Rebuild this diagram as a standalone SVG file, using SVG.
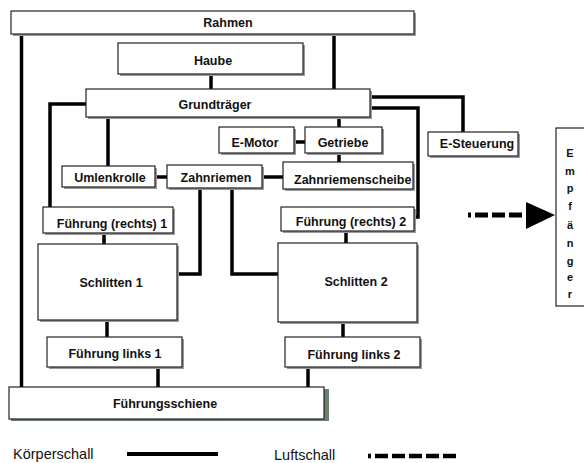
<svg xmlns="http://www.w3.org/2000/svg" width="584" height="463" viewBox="0 0 584 463">
<style>
.b{fill:#fff;stroke:#222;stroke-width:1.2}
.s{fill:#9a9a9a}
.t{font-family:"Liberation Sans",Arial,sans-serif;font-weight:bold;font-size:12.5px;fill:#111;text-anchor:middle}
.l{font-family:"Liberation Sans",Arial,sans-serif;font-size:14.5px;fill:#111}
.k{fill:none;stroke:#000;stroke-width:3.5}
.d{fill:none;stroke:#000;stroke-width:5}
.e{font-family:"Liberation Sans",Arial,sans-serif;font-weight:bold;font-size:11px;fill:#111;text-anchor:middle}
</style>
<rect width="584" height="463" fill="#fff"/>
<g id="connectors">
<line class="k" x1="21.5" y1="34" x2="21.5" y2="387"/>
<line class="k" x1="334" y1="34" x2="334" y2="89"/>
<line class="k" x1="211" y1="74" x2="211" y2="89"/>
<polyline class="k" points="86,104 50,104 50,207"/>
<line class="k" x1="108" y1="117" x2="108" y2="166"/>
<line class="k" x1="339" y1="117" x2="339" y2="127"/>
<line class="k" x1="294" y1="142" x2="305" y2="142"/>
<line class="k" x1="339" y1="153" x2="339" y2="162"/>
<polyline class="k" points="370,97 463,97 463,132"/>
<polyline class="k" points="370,108 418,108 418,217 414,217"/>
<line class="k" x1="155" y1="177" x2="167" y2="177"/>
<line class="k" x1="262" y1="177" x2="283" y2="177"/>
<polyline class="k" points="200,188 200,274 177,274"/>
<polyline class="k" points="232,188 232,274 278,274"/>
<line class="k" x1="104" y1="233" x2="104" y2="244"/>
<line class="k" x1="346" y1="231" x2="346" y2="243"/>
<line class="k" x1="107" y1="320" x2="107" y2="337"/>
<line class="k" x1="343" y1="322" x2="343" y2="337"/>
<line class="k" x1="158" y1="367" x2="158" y2="387"/>
<line class="k" x1="308" y1="367" x2="308" y2="387"/>
<line class="d" x1="468" y1="215" x2="529" y2="215" stroke-dasharray="3,4,13,4,13,4,13,4"/>
<polygon points="526,202 555,215 526,229" fill="#000"/>
</g>
<g id="rahmen"><rect class="s" x="13" y="13" width="403" height="23"/><rect class="b" x="11" y="11" width="403" height="23"/><text class="t" x="228" y="27">Rahmen</text></g>
<g id="haube"><rect class="s" x="120" y="45" width="185" height="31"/><rect class="b" x="118" y="43" width="185" height="31"/><text class="t" x="213" y="65">Haube</text></g>
<g id="grundtraeger"><rect class="s" x="88" y="91" width="284" height="28"/><rect class="b" x="86" y="89" width="284" height="28"/><text class="t" x="215" y="109">Grundträger</text></g>
<g id="emotor"><rect class="s" x="221" y="129" width="75" height="26"/><rect class="b" x="219" y="127" width="75" height="26"/><text class="t" x="255" y="147">E-Motor</text></g>
<g id="getriebe"><rect class="s" x="307" y="129" width="77" height="26"/><rect class="b" x="305" y="127" width="77" height="26"/><text class="t" x="343" y="147">Getriebe</text></g>
<g id="esteuerung"><rect class="s" x="430" y="134" width="90" height="24"/><rect class="b" x="428" y="132" width="90" height="24"/><text class="t" x="477" y="148">E-Steuerung</text></g>
<g id="empfaenger"><rect class="b" x="556" y="128" width="40" height="178"/>
<text class="e" x="570" y="157">E</text><text class="e" x="570" y="175">m</text><text class="e" x="570" y="192">p</text><text class="e" x="570" y="210">f</text><text class="e" x="570" y="229">ä</text><text class="e" x="570" y="247">n</text><text class="e" x="570" y="265">g</text><text class="e" x="570" y="281">e</text><text class="e" x="570" y="298">r</text></g>
<g id="umlenkrolle"><rect class="s" x="64" y="168" width="93" height="21"/><rect class="b" x="62" y="166" width="93" height="21"/><text class="t" x="110" y="182">Umlenkrolle</text></g>
<g id="zahnriemen"><rect class="s" x="169" y="167" width="95" height="23"/><rect class="b" x="167" y="165" width="95" height="23"/><text class="t" x="216" y="182">Zahnriemen</text></g>
<g id="zahnriemenscheibe"><rect class="s" x="285" y="164" width="130" height="27"/><rect class="b" x="283" y="162" width="130" height="27"/><text class="t" x="294" y="184" style="text-anchor:start">Zahnriemenscheibe</text></g>
<g id="fuehrung-r1"><rect class="s" x="45" y="209" width="130" height="26"/><rect class="b" x="43" y="207" width="130" height="26"/><text class="t" x="112" y="228">Führung (rechts) 1</text></g>
<g id="fuehrung-r2"><rect class="s" x="283" y="209" width="133" height="24"/><rect class="b" x="281" y="207" width="133" height="24"/><text class="t" x="351" y="226">Führung (rechts) 2</text></g>
<g id="schlitten1"><rect class="s" x="40" y="246" width="139" height="76"/><rect class="b" x="38" y="244" width="139" height="76"/><text class="t" x="111" y="287">Schlitten 1</text></g>
<g id="schlitten2"><rect class="s" x="280" y="245" width="139" height="79"/><rect class="b" x="278" y="243" width="139" height="79"/><text class="t" x="356" y="286">Schlitten 2</text></g>
<g id="fuehrung-l1"><rect class="s" x="49" y="339" width="135" height="30"/><rect class="b" x="47" y="337" width="135" height="30"/><text class="t" x="115" y="358">Führung links 1</text></g>
<g id="fuehrung-l2"><rect class="s" x="287" y="339" width="135" height="30"/><rect class="b" x="285" y="337" width="135" height="30"/><text class="t" x="354" y="359">Führung links 2</text></g>
<g id="fuehrungsschiene"><rect x="11" y="389" width="318" height="32" fill="#6b8070"/><rect class="b" x="9" y="387" width="315" height="32"/><text class="t" x="165" y="408">Führungsschiene</text></g>
<g id="legend">
<text class="l" x="13" y="459">Körperschall</text>
<line x1="127" y1="454" x2="218" y2="454" stroke="#000" stroke-width="4"/>
<text class="l" x="274" y="460">Luftschall</text>
<line x1="368" y1="456" x2="458" y2="456" stroke="#000" stroke-width="4.5" stroke-dasharray="3,4,13,4,13,4,13,4,13,4,13"/>
</g>
</svg>
